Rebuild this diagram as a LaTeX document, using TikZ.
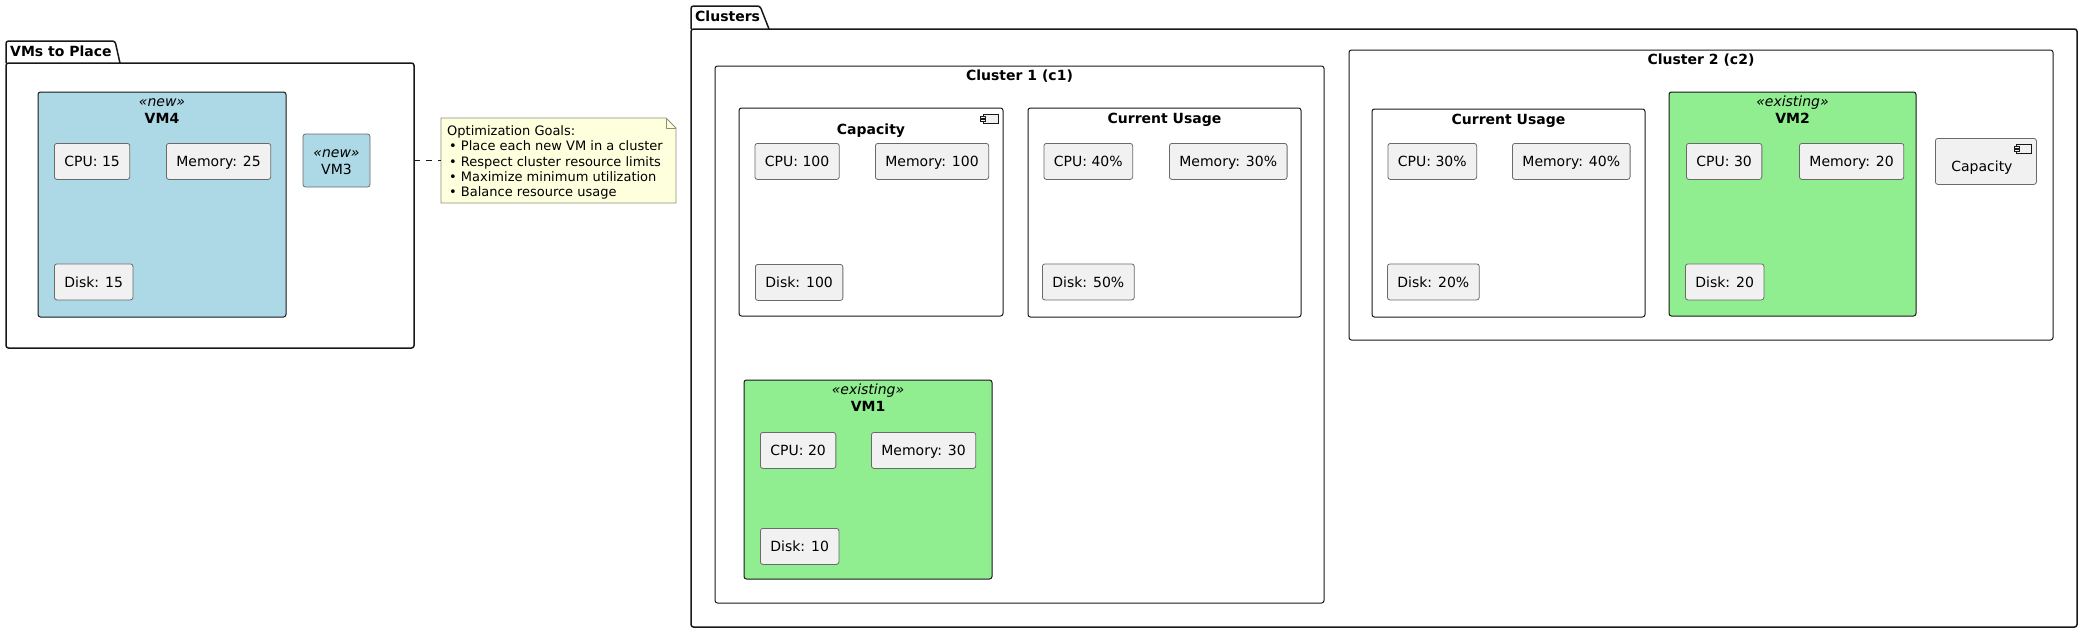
\documentclass[tikz,border=0pt]{standalone}
\usepackage{fontspec}
\setmainfont{DejaVu Sans}
\usetikzlibrary{positioning}

\definecolor{ink}{HTML}{181818}
\definecolor{newvm}{HTML}{ADD8E6}
\definecolor{oldvm}{HTML}{90EE90}
\definecolor{resfill}{HTML}{F1F1F1}
\definecolor{resline}{HTML}{6A6A6A}
\definecolor{notefill}{HTML}{FEFFDD}
\definecolor{noteline}{HTML}{8F8F7A}

\newcommand\umlfont{\fontsize{14pt}{16pt}\selectfont}
\newcommand\notefont{\fontsize{13pt}{15.3pt}\selectfont}

\tikzset{
  pkg/.style={draw=ink,line width=1.5pt,rounded corners=2.5pt},
  pkgbody/.style={pkg,anchor=north west,inner sep=0pt,outer sep=0pt},
  clbox/.style={draw=ink,line width=1pt,rounded corners=2.5pt,anchor=north west,inner sep=0pt,outer sep=0pt},
  vmbox/.style={clbox,fill=#1},
  res/.style={draw=resline,line width=0.8pt,fill=resfill,rounded corners=2.5pt,anchor=north west,
    minimum height=36pt,inner xsep=10pt,inner ysep=0pt,text height=10.2pt,text depth=0pt},
  boxtitle/.style={anchor=base,inner sep=0pt,font=\umlfont\bfseries},
  stereo/.style={anchor=base,inner sep=0pt,font=\umlfont\itshape},
  vmlabel/.style={anchor=base,inner sep=0pt},
  icon/.style={draw=ink,line width=0.7pt,fill=resfill},
  notebox/.style={draw=noteline,line width=0.8pt,fill=notefill},
  notelink/.style={draw=ink,line width=1pt,dash pattern=on 6pt off 6pt},
}

\begin{document}
\begin{tikzpicture}[x=1pt,y=-1pt,every node/.style={font=\umlfont}]
  \useasboundingbox (0,0) rectangle (2083,633);
  % VMs to Place
  \draw[pkg] (6,63) -- (6,41) -- (115,41) -- (120,63);
  \node[boxtitle,anchor=base west] (vmstab) at (10,56) {VMs to Place};
  \node[pkgbody,minimum width=408pt,minimum height=285pt] (vms) at (6,63) {};
  \node[vmbox=newvm,minimum width=248pt,minimum height=225pt] (vm4) at (38,92) {};
  \node[stereo] (s4) at ([yshift=-14pt]vm4.north) {«new»};
  \node[boxtitle] (n4) at ([yshift=-31pt]vm4.north) {VM4};
  \node[res] (cpu4) at (54,143) {CPU: 15};
  \node[res] (mem4) at (166,143) {Memory: 25};
  \node[res] (disk4) at (54,263.5) {Disk: 15};
  \node[vmbox=newvm,draw=resline,line width=0.8pt,minimum width=67pt,minimum height=53pt] (vm3) at (303,134) {};
  \node[stereo] (s3) at ([yshift=-23pt]vm3.north) {«new»};
  \node[vmlabel] (n3) at ([yshift=-40pt]vm3.north) {VM3};
  % note
  \node[anchor=north west,inner sep=0pt,outer sep=0pt,minimum width=235pt,minimum height=85pt] (goal) at (441,118) {};
  \draw[notebox] (goal.south west) |- ([xshift=-10pt]goal.north east)
    -- ([yshift=-10pt]goal.north east) -- (goal.south east) -- cycle;
  \draw[notebox,fill=none] ([xshift=-10pt]goal.north east) |- ([yshift=-10pt]goal.north east);
  \node[anchor=north west,inner sep=0pt,align=left,font=\notefont] (goaltxt)
    at ([xshift=6pt,yshift=-7.5pt]goal.north west)
    {Optimization Goals:\\
     \hspace{2pt}• Place each new VM in a cluster\\
     \hspace{2pt}• Respect cluster resource limits\\
     \hspace{2pt}• Maximize minimum utilization\\
     \hspace{2pt}• Balance resource usage};
  \draw[notelink] (goal.west -| vms.east) -- (goal.west);
  % Clusters
  \draw[pkg] (691,29) -- (691,6) -- (760,6) -- (769,29);
  \node[boxtitle,anchor=base west] (clutab) at (695,21) {Clusters};
  \node[pkgbody,minimum width=1386pt,minimum height=598pt] (clu) at (691,29) {};
  % cluster 1
  \node[clbox,minimum width=609pt,minimum height=537pt] (cl1) at (715,66) {};
  \node[boxtitle] (cl1t) at ([yshift=-14pt]cl1.north) {Cluster 1 (c1)};
  \node[clbox,minimum width=264pt,minimum height=208pt] (cap1) at (739,108) {};
  \node[boxtitle] (cap1t) at ([yshift=-26pt]cap1.north) {Capacity};
  \node[res] (cpu1) at (754.5,143) {CPU: 100};
  \node[res] (mem1) at (875,143) {Memory: 100};
  \node[res] (disk1) at (755,264) {Disk: 100};
  \node[clbox,minimum width=273pt,minimum height=209pt] (use1) at (1028,108) {};
  \node[boxtitle] (use1t) at ([yshift=-15.5pt]use1.north) {Current Usage};
  \node[res] (ucpu1) at (1043.5,143) {CPU: 40\%};
  \node[res] (umem1) at (1169,143) {Memory: 30\%};
  \node[res] (udisk1) at (1042,263.5) {Disk: 50\%};
  \node[vmbox=oldvm,minimum width=248pt,minimum height=199pt] (vm1) at (744,380) {};
  \node[stereo] (s1) at ([yshift=-14pt]vm1.north) {«existing»};
  \node[boxtitle] (n1) at ([yshift=-31pt]vm1.north) {VM1};
  \node[res] (cpuv1) at (760,432) {CPU: 20};
  \node[res] (memv1) at (871,432) {Memory: 30};
  \node[res] (diskv1) at (760,528) {Disk: 10};
  % cluster 2
  \node[clbox,minimum width=704pt,minimum height=290pt] (cl2) at (1349,50) {};
  \node[boxtitle] (cl2t) at ([yshift=-14pt]cl2.north) {Cluster 2 (c2)};
  \node[clbox,minimum width=273pt,minimum height=208pt] (use2) at (1372,109) {};
  \node[boxtitle] (use2t) at ([yshift=-15pt]use2.north) {Current Usage};
  \node[res] (ucpu2) at (1387.5,143) {CPU: 30\%};
  \node[res] (umem2) at (1512,143) {Memory: 40\%};
  \node[res] (udisk2) at (1387,263.5) {Disk: 20\%};
  \node[vmbox=oldvm,minimum width=247pt,minimum height=224pt] (vm2) at (1669,92) {};
  \node[stereo] (s2) at ([yshift=-14pt]vm2.north) {«existing»};
  \node[boxtitle] (n2) at ([yshift=-31pt]vm2.north) {VM2};
  \node[res] (cpuv2) at (1686,143) {CPU: 30};
  \node[res] (memv2) at (1799,143) {Memory: 20};
  \node[res] (diskv2) at (1685,263.5) {Disk: 20};
  \node[res,minimum width=101pt,minimum height=46pt,inner sep=0pt] (cap2) at (1935,138) {};
  \node[vmlabel] (cap2t) at ([xshift=-4pt,yshift=-33pt]cap2.north) {Capacity};
  % component icons
  \foreach \c in {cap1,cap2}{
    \draw[icon] ([xshift=-20pt,yshift=-6pt]\c.north east) rectangle ([xshift=-5pt,yshift=-15pt]\c.north east);
    \draw[icon] ([xshift=-22.5pt,yshift=-8pt]\c.north east) rectangle ([xshift=-17.5pt,yshift=-10pt]\c.north east);
    \draw[icon] ([xshift=-22.5pt,yshift=-11.5pt]\c.north east) rectangle ([xshift=-17.5pt,yshift=-13.5pt]\c.north east);
  }
\end{tikzpicture}
\end{document}
